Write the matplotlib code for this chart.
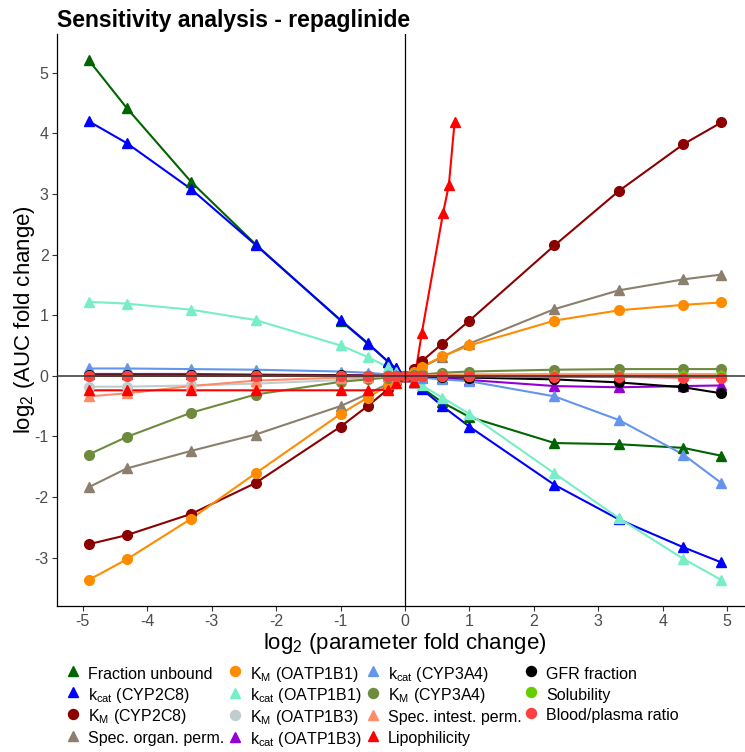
import numpy as np
import matplotlib
matplotlib.use("Agg")
import matplotlib.pyplot as plt
from matplotlib.lines import Line2D

plt.rcParams['font.family'] = ['Liberation Sans', 'DejaVu Sans']
plt.rcParams['mathtext.fontset'] = 'custom'
plt.rcParams['mathtext.rm'] = 'Liberation Sans'
plt.rcParams['mathtext.it'] = 'Liberation Sans:italic'
plt.rcParams['mathtext.default'] = 'regular'
plt.rcParams['axes.unicode_minus'] = False

# log2 parameter fold change (x) for the standard scan
x_std = [-4.91, -4.32, -3.32, -2.32, -1.0, -0.58, -0.26, -0.14, 0.0,
         0.14, 0.26, 0.58, 1.0, 2.32, 3.32, 4.32, 4.91]
# lipophilicity was scanned on a shorter range
x_lipo = [-4.91, -4.32, -3.32, -2.32, -1.0, -0.58, -0.26, -0.14, 0.0,
          0.14, 0.26, 0.59, 0.68, 0.77]

# log2 AUC fold change per parameter
fu = [5.21, 4.42, 3.20, 2.17, 0.91, 0.53, 0.23, 0.12, 0.0,
      -0.10, -0.20, -0.44, -0.68, -1.11, -1.13, -1.19, -1.32]
kcat_2c8 = [4.20, 3.84, 3.08, 2.16, 0.92, 0.54, 0.23, 0.12, 0.0,
            -0.11, -0.22, -0.50, -0.84, -1.80, -2.37, -2.83, -3.08]
km_2c8 = [-2.78, -2.63, -2.28, -1.77, -0.84, -0.50, -0.22, -0.11, 0.0,
          0.11, 0.24, 0.53, 0.91, 2.15, 3.05, 3.82, 4.18]
organ_perm = [-1.84, -1.53, -1.24, -0.97, -0.50, -0.30, -0.13, -0.07, 0.0,
              0.07, 0.14, 0.31, 0.53, 1.10, 1.41, 1.59, 1.67]
km_1b1 = [-3.37, -3.03, -2.36, -1.61, -0.63, -0.36, -0.16, -0.08, 0.0,
          0.07, 0.15, 0.32, 0.50, 0.91, 1.08, 1.17, 1.21]
kcat_1b1 = [1.22, 1.19, 1.09, 0.92, 0.50, 0.31, 0.14, 0.07, 0.0,
            -0.08, -0.16, -0.36, -0.63, -1.61, -2.35, -3.02, -3.37]
km_1b3 = [-0.18, -0.18, -0.16, -0.13, -0.07, -0.04, -0.02, -0.01, 0.0,
          0.01, 0.01, 0.02, 0.02, 0.03, 0.03, 0.03, 0.03]
kcat_1b3 = [0.03, 0.03, 0.03, 0.02, 0.01, 0.01, 0.0, 0.0, 0.0,
            -0.01, -0.02, -0.04, -0.07, -0.17, -0.19, -0.17, -0.16]
kcat_3a4 = [0.12, 0.12, 0.11, 0.10, 0.07, 0.05, 0.02, 0.01, 0.0,
            -0.01, -0.03, -0.06, -0.09, -0.34, -0.73, -1.30, -1.77]
km_3a4 = [-1.30, -1.01, -0.61, -0.31, -0.10, -0.06, -0.03, -0.01, 0.0,
          0.01, 0.02, 0.05, 0.07, 0.10, 0.11, 0.11, 0.11]
intest_perm = [-0.34, -0.29, -0.17, -0.08, -0.03, -0.02, -0.01, 0.0, 0.0,
               0.0, 0.01, 0.01, 0.02, 0.02, 0.02, 0.02, 0.02]
lipophilicity = [-0.24, -0.24, -0.24, -0.24, -0.24, -0.24, -0.23, -0.12, 0.0,
                 -0.10, 0.70, 2.68, 3.14, 4.19]
gfr = [0.01, 0.01, 0.01, 0.01, 0.01, 0.0, 0.0, 0.0, 0.0,
       -0.01, -0.01, -0.02, -0.03, -0.06, -0.11, -0.19, -0.29]
solubility = [0.0, 0.0, 0.0, 0.0, 0.0, 0.0, 0.0, 0.0, 0.0,
              0.0, 0.0, 0.0, 0.0, 0.0, 0.0, 0.0, 0.0]
bp_ratio = [0.0, 0.0, 0.0, 0.0, 0.0, 0.0, 0.0, 0.0, 0.0,
            0.0, 0.0, -0.01, -0.01, -0.02, -0.02, -0.03, -0.03]

# (label, x, y, colour, marker) in legend order
series = [
    ("Fraction unbound", x_std, fu, "#006400", "^"),
    ("k$_{cat}$ (CYP2C8)", x_std, kcat_2c8, "#0000FF", "^"),
    ("K$_M$ (CYP2C8)", x_std, km_2c8, "#8B0000", "o"),
    ("Spec. organ. perm.", x_std, organ_perm, "#8B7F6E", "^"),
    ("K$_M$ (OATP1B1)", x_std, km_1b1, "#FF8C00", "o"),
    ("k$_{cat}$ (OATP1B1)", x_std, kcat_1b1, "#76EEC6", "^"),
    ("K$_M$ (OATP1B3)", x_std, km_1b3, "#C1CDCD", "o"),
    ("k$_{cat}$ (OATP1B3)", x_std, kcat_1b3, "#9400D3", "^"),
    ("k$_{cat}$ (CYP3A4)", x_std, kcat_3a4, "#6495ED", "^"),
    ("K$_M$ (CYP3A4)", x_std, km_3a4, "#6E8B3D", "o"),
    ("Spec. intest. perm.", x_std, intest_perm, "#FF8C69", "^"),
    ("Lipophilicity", x_lipo, lipophilicity, "#FF0000", "^"),
    ("GFR fraction", x_std, gfr, "#000000", "o"),
    ("Solubility", x_std, solubility, "#66CD00", "o"),
    ("Blood/plasma ratio", x_std, bp_ratio, "#FF4040", "o"),
]

W, H = 745, 752
fig = plt.figure(figsize=(W / 100, H / 100), dpi=100)
ax = fig.add_axes([57 / W, (H - 606) / H, (753 - 57) / W, (606 - 34) / H])

handles = []
for label, xs, ys, col, mk in series:
    ax.plot(xs, ys, color=col, lw=1.5, zorder=2)
for label, xs, ys, col, mk in series:
    ax.plot(xs, ys, ls="none", marker=mk, ms=7.0 if mk == "o" else 7.4,
            color=col, mec=col, zorder=3)
    handles.append(Line2D([], [], ls="none", marker=mk, ms=7.2,
                          color=col, mec=col, label=label))

ax.axhline(0, color="#333333", lw=1.1, zorder=4)
ax.axvline(0, color="black", lw=0.9, zorder=4)

# ggplot style 5% expansion of the data range
all_x = np.concatenate([x_std, x_lipo])
all_y = np.concatenate([s[2] for s in series])
dx = 0.05 * (all_x.max() - all_x.min())
dy = 0.05 * (all_y.max() - all_y.min())
ax.set_xlim(all_x.min() - dx, all_x.max() + dx)
ax.set_ylim(all_y.min() - dy, all_y.max() + dy)

ax.set_xticks(range(-5, 6))
ax.set_yticks(range(-3, 6))
ax.spines["top"].set_visible(False)
ax.spines["right"].set_visible(False)
ax.spines["left"].set_linewidth(0.9)
ax.spines["bottom"].set_linewidth(0.9)
ax.tick_params(length=3.5, width=0.8, color="#333333", labelsize=11.5,
               labelcolor="#4D4D4D", pad=2.5)

ax.set_xlabel("log$_2$ (parameter fold change)", fontsize=16, labelpad=1)
ax.set_ylabel("log$_2$ (AUC fold change)", fontsize=16, labelpad=-2)
ax.set_title("Sensitivity analysis - repaglinide", loc="left",
             fontsize=16.5, fontweight="bold", pad=5)

# legend: four columns, each its own legend so the columns sit where wanted
fs = 11.5
fs_px = fs * 100 / 72
col_x = [73, 235, 373, 531]
col_items = [handles[0:4], handles[4:8], handles[8:12], handles[12:15]]
for cx, items in zip(col_x, col_items):
    fig.legend(handles=items, loc="upper left",
               bbox_to_anchor=((cx - 0.5 * fs_px) / W, 1 - 664 / H),
               frameon=False, fontsize=fs, handlelength=1.0,
               handleheight=1.42, handletextpad=0.45, labelspacing=0.14,
               borderpad=0, borderaxespad=0)

fig.savefig("out.png", dpi=100)
